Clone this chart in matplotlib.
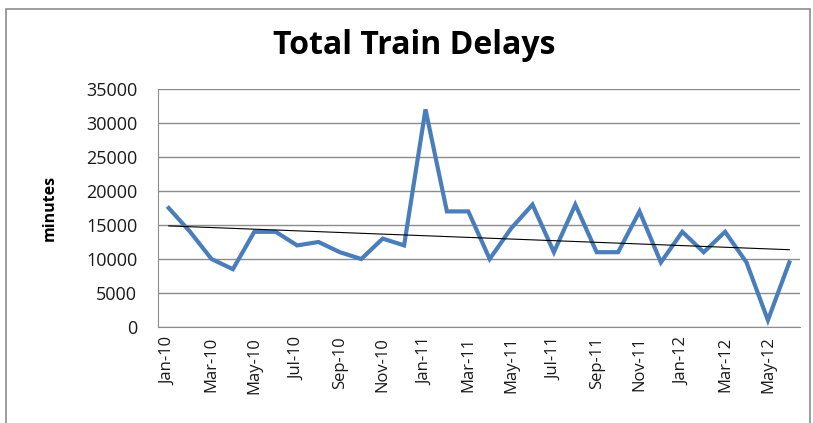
import matplotlib
matplotlib.use("Agg")
import matplotlib.pyplot as plt
import numpy as np
from matplotlib.patches import Rectangle

months = ["Jan-10","Feb-10","Mar-10","Apr-10","May-10","Jun-10","Jul-10","Aug-10","Sep-10","Oct-10","Nov-10","Dec-10",
          "Jan-11","Feb-11","Mar-11","Apr-11","May-11","Jun-11","Jul-11","Aug-11","Sep-11","Oct-11","Nov-11","Dec-11",
          "Jan-12","Feb-12","Mar-12","Apr-12","May-12","Jun-12"]
delays = [17500, 14000, 10000, 8500, 14000, 14000, 12000, 12500, 11000, 10000, 13000, 12000,
          32000, 17000, 17000, 10000, 14500, 18000, 11000, 18000, 11000, 11000, 17000, 9500,
          14000, 11000, 14000, 9500, 1000, 9500]
yticks = [0, 5000, 10000, 15000, 20000, 25000, 30000, 35000]

plt.rcParams['font.family'] = ['Open Sans', 'DejaVu Sans']

fig = plt.figure(figsize=(8.13, 4.23), dpi=100)
fig.patches.append(Rectangle((6/813, -0.1), (810-6)/813, 1.1 - 9/423, transform=fig.transFigure,
                             fill=False, edgecolor='#8c8c8c', linewidth=1.2))
ax = fig.add_axes([158/813, 1-327/423, (800-158)/813, (327-89)/423])

x = np.arange(len(delays))
ax.plot(x, delays, color='#4a7ebb', linewidth=3, solid_joinstyle='miter', zorder=3)
coef = np.polyfit(x, delays, 1)
ax.plot(x, np.polyval(coef, x), color='black', linewidth=0.8, zorder=4)

ax.set_xlim(-0.5, len(delays)-0.5)
ax.set_ylim(0, 35000)
ax.set_yticks(yticks)
ax.set_yticklabels([str(v) for v in yticks], fontsize=13, color='#1a1a1a')
ax.yaxis.grid(True, color='#8c8c8c', linewidth=1)
ax.set_axisbelow(True)
ax.set_xticks(x[::2])
ax.set_xticklabels(months[::2], rotation=90, fontsize=12, color='#1a1a1a')
ax.tick_params(axis='x', length=0, pad=7)
ax.tick_params(axis='y', length=0, pad=15)
for s in ['top', 'right']:
    ax.spines[s].set_visible(False)
for s in ['left', 'bottom']:
    ax.spines[s].set_color('#8c8c8c')
ax.set_ylabel('minutes', fontsize=11.5, fontweight='bold', labelpad=20)
fig.text(414/813, 1-45/423, 'Total Train Delays', ha='center', va='center', fontsize=23, fontweight='bold')

fig.savefig('out.png', dpi=100)
